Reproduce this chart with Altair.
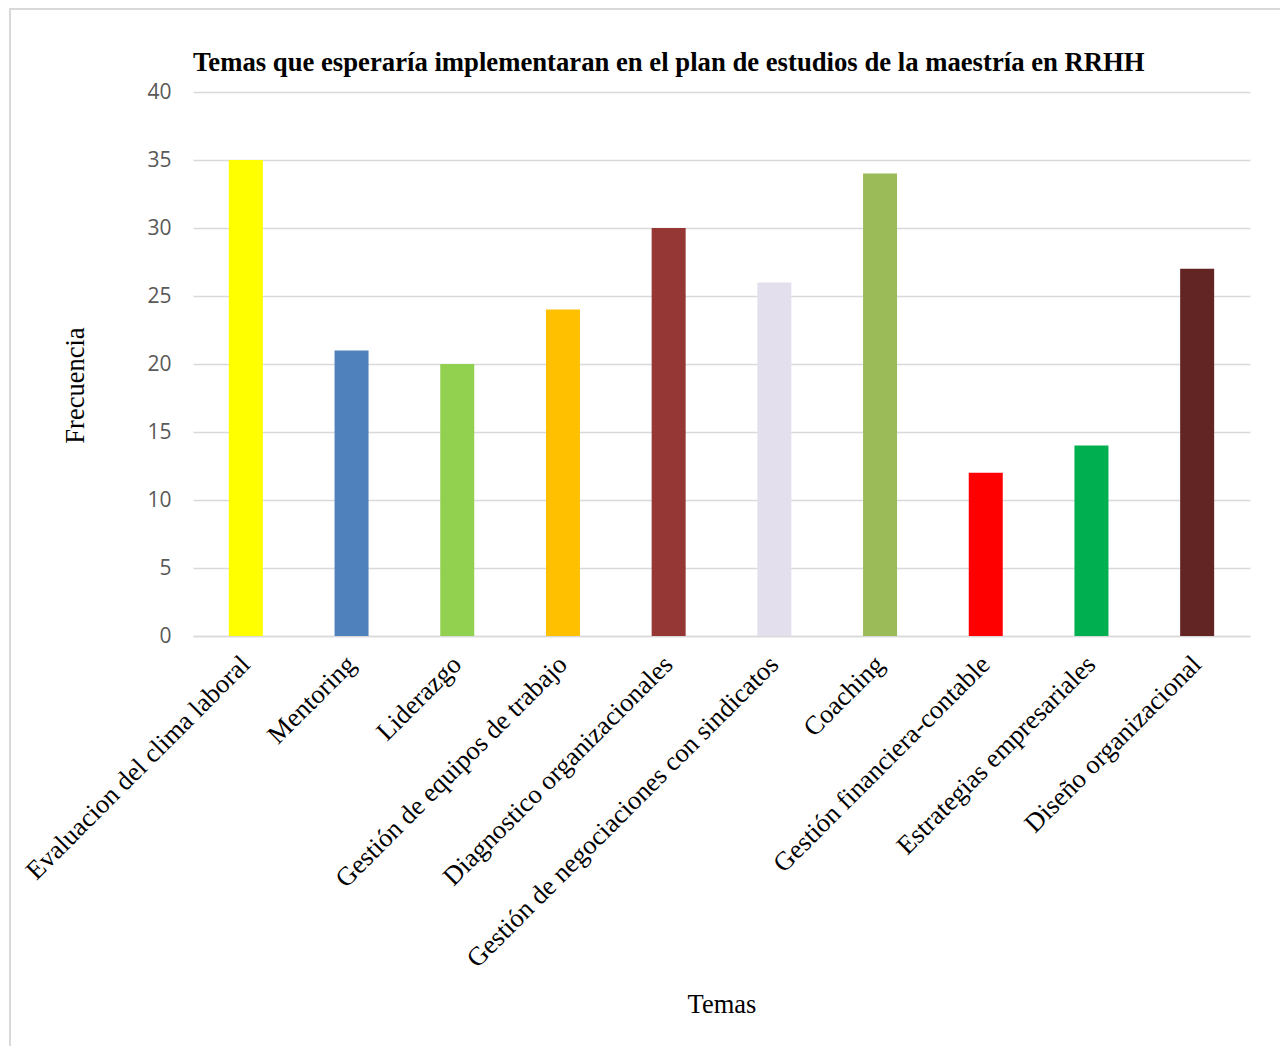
import altair as alt
import pandas as pd

temas = [
    "Evaluacion del clima laboral",
    "Mentoring",
    "Liderazgo",
    "Gestión de equipos de trabajo",
    "Diagnostico organizacionales",
    "Gestión de negociaciones con sindicatos",
    "Coaching",
    "Gestión financiera-contable",
    "Estrategias empresariales",
    "Diseño organizacional",
]
frecuencia = [35, 21, 20, 24, 30, 26, 34, 12, 14, 27]
colores = ["#FFFF00", "#4F81BD", "#92D050", "#FFC000", "#953735",
           "#E4DFEC", "#9BBB59", "#FF0000", "#00B050", "#632523"]

df = pd.DataFrame({"Temas": temas, "Frecuencia": frecuencia})

W, H = 1057, 544

bars = alt.Chart(df).mark_bar(size=34).encode(
    x=alt.X("Temas:N", sort=temas,
            scale=alt.Scale(paddingInner=0, paddingOuter=0),
            axis=alt.Axis(title="Temas", labelAngle=-45, labelAlign="right",
                          labelBaseline="middle", labelFont="Liberation Serif",
                          labelFontSize=26.5, labelColor="#000000", labelPadding=24,
                          labelLimit=800, ticks=False, grid=False,
                          domainColor="#D9D9D9",
                          domainWidth=1.5, titleFont="Liberation Serif",
                          titleFontSize=26.5, titleFontWeight="normal",
                          titleColor="#000000", titleY=376,
                          titleBaseline="alphabetic")),
    y=alt.Y("Frecuencia:Q", scale=alt.Scale(domain=[0, 40], nice=False),
            axis=alt.Axis(title="Frecuencia", values=[0, 5, 10, 15, 20, 25, 30, 35, 40],
                          grid=True, gridColor="#D9D9D9", gridWidth=1.5,
                          domain=False, ticks=False, labelFont="Open Sans",
                          labelFontSize=21, labelColor="#595959", labelPadding=22,
                          titleFont="Liberation Serif", titleFontSize=26.5,
                          titleFontWeight="normal", titleColor="#000000",
                          titleAngle=-90, titleX=-110, titleY=293,
                          titleAlign="center", titleBaseline="alphabetic")),
    color=alt.Color("Temas:N", sort=temas,
                    scale=alt.Scale(domain=temas, range=colores), legend=None),
)

border = alt.Chart(pd.DataFrame({"b": [0]})).mark_rect(
    fill=None, stroke="#D9D9D9", strokeWidth=2
).encode(
    x=alt.value(-183), x2=alt.value(W + 86), y=alt.value(-83), y2=alt.value(H + 420)
)

chart = alt.layer(border, bars).properties(
    width=W, height=H,
    background="#FFFFFF",
    title=alt.Title("Temas que esperaría implementaran en el plan de estudios de la maestría en RRHH",
                    font="Liberation Serif", fontSize=26.7, fontWeight="bold",
                    color="#000000", anchor="start", frame="group", offset=-69),
    autosize=alt.AutoSizeParams(type="none"),
    padding={"left": 193, "top": 92, "right": 30, "bottom": 410},
).configure_view(strokeWidth=0, stroke="transparent")

chart.save("out.html", embed_options={"renderer": "svg", "actions": False})
